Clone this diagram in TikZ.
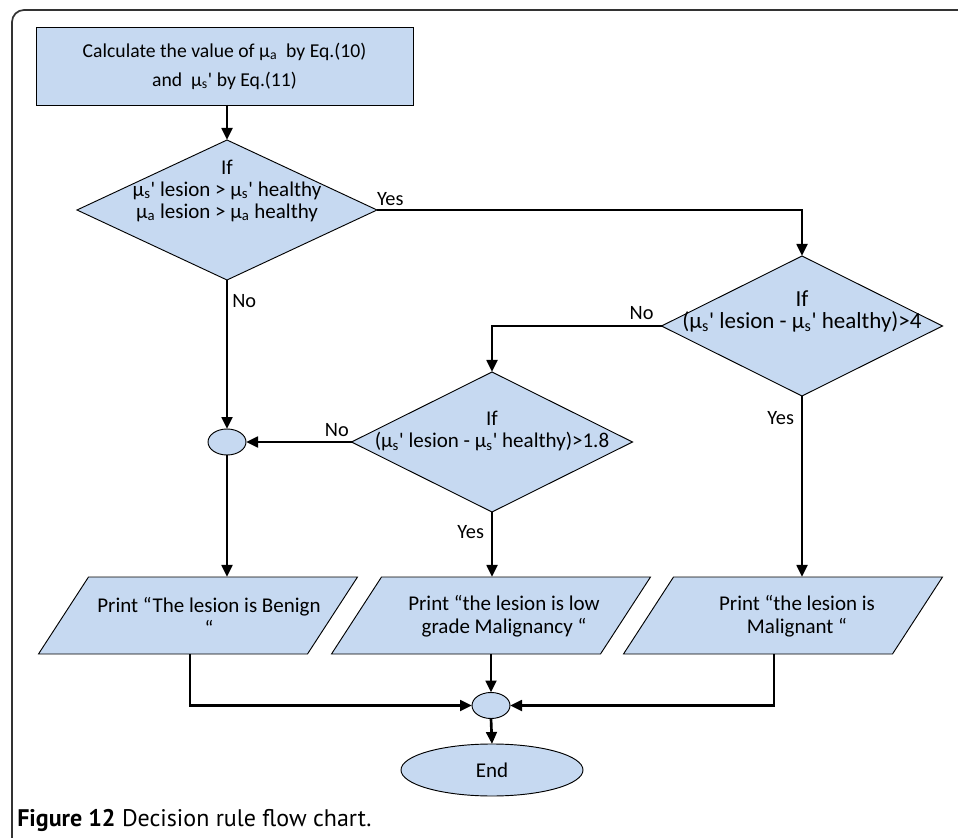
\documentclass[tikz,border=0pt]{standalone}
\usepackage{fontspec}
\setmainfont{Carlito}[Ligatures=TeXOff]
\newfontfamily\capfont{PT Sans}
\usetikzlibrary{shapes.geometric,arrows.meta}
\definecolor{flowblue}{RGB}{198,217,241}
\newcommand{\mus}{µ\textsubscript{s}}
\newcommand{\mua}{µ\textsubscript{a}}

\begin{document}
\begin{tikzpicture}[
  x=0.75pt, y=-0.75pt,
  font=\fontsize{15.75}{16.5}\selectfont,
  base/.style={draw, fill=flowblue, line width=0.7pt, inner sep=0pt, outer sep=0pt},
  process/.style={base, rectangle, minimum width=282.75pt, minimum height=58.5pt, align=center,
    font=\fontsize{14.75}{16}\selectfont},
  decision/.style={base, diamond, minimum width=#1, minimum height=105pt},
  io/.style={base, trapezium, trapezium left angle=57, trapezium right angle=123,
    inner xsep=82.125pt, inner ysep=28.875pt},
  joint/.style={base, ellipse, minimum width=28.5pt, minimum height=19.5pt},
  term/.style={base, ellipse, minimum width=136.5pt, minimum height=39pt},
  txt/.style={align=center, inner sep=0pt},
  iotxt/.style={txt, font=\fontsize{15.75}{17.25}\selectfont},
  lbl/.style={inner sep=1pt, font=\fontsize{15.25}{16}\selectfont},
  arr/.style={line width=2pt, -{Triangle[length=9pt,width=8pt]}}
]
  \useasboundingbox (0,0) rectangle (958,838);
  \draw[line width=1.3pt, draw=black!80, rounded corners=9pt] (12,838) -- (12,10) -- (958,10);

  % boxes
  \node[process] (calc) at (224.5,66) {Calculate the value of \mua\ \ by Eq.(10)\\[5.75pt] and\ \ \mus' by Eq.(11)};
  \node[decision=225pt] (d1) at (227,210) {};
  \node[txt] (d1t) at (227,190.5) {If\\ \mus' lesion > \mus' healthy\\ \mua\ lesion > \mua\ healthy};
  \node[decision=210.75pt] (d2) at (802,326) {};
  \node[txt, font=\fontsize{17.25}{16.5}\selectfont] (d2t) at (802,311) {If\\ (\mus' lesion - \mus' healthy)>4};
  \node[decision=210.75pt] (d3) at (492,442) {};
  \node[txt] (d3t) at (492,431) {If\\ (\mus' lesion - \mus' healthy)>1.8};
  \node[joint] (j1) at (227,442) {};
  \node[io] (p1) at (198,615.5) {};
  \node[iotxt] (p1t) at (209,616.5) {Print “The lesion is Benign\\ “};
  \node[io] (p2) at (491,615.5) {};
  \node[iotxt] (p2t) at (504,616.5) {Print “the lesion is low\\ grade Malignancy “};
  \node[io] (p3) at (783,615.5) {};
  \node[iotxt] (p3t) at (797,616.5) {Print “the lesion is\\ Malignant “};
  \node[joint] (j2) at (491,705.5) {};
  \node[term] (end) at (492,770) {End};
  \coordinate (p1out) at (190,654);
  \coordinate (p3out) at (774,654);

  % arrows
  \draw[arr] (calc.south -| d1.north) -- (d1.north);
  \draw[arr] (d1.east) -| (d2.north) node[lbl, pos=0, anchor=south west, xshift=-2pt, yshift=1pt] (yes1) {Yes};
  \draw[arr] (d1.south) -- (j1.north) node[lbl, pos=0.14, anchor=west, xshift=2pt] (no1) {No};
  \draw[arr] (d2.west) -| (d3.north) node[lbl, pos=0, anchor=south east, xshift=-4pt, yshift=3pt] (no2) {No};
  \draw[arr] (d2.south) -- (d2.south |- p3.north) node[lbl, pos=0.12, anchor=east, xshift=-4pt] (yes2) {Yes};
  \draw[arr] (d3.west) -- (j1.east) node[lbl, pos=0, anchor=south east, yshift=2pt] (no3) {No};
  \draw[arr] (d3.south) -- (d3.south |- p2.north) node[lbl, pos=0.31, anchor=east, xshift=-4pt] (yes3) {Yes};
  \draw[arr] (j1.south) -- (j1.south |- p1.north);
  \draw[arr] (p1out) |- (j2.west);
  \draw[arr] (j2.north |- p2.south) -- (j2.north);
  \draw[arr] (p3out) |- (j2.east);
  \draw[arr] (j2.south) -- (end.north);

  \node[anchor=west, inner sep=0pt, font=\capfont\fontsize{18}{19}\selectfont] (cap) at (17,820) {\textbf{Figure 12} Decision rule flow chart.};
\end{tikzpicture}
\end{document}
